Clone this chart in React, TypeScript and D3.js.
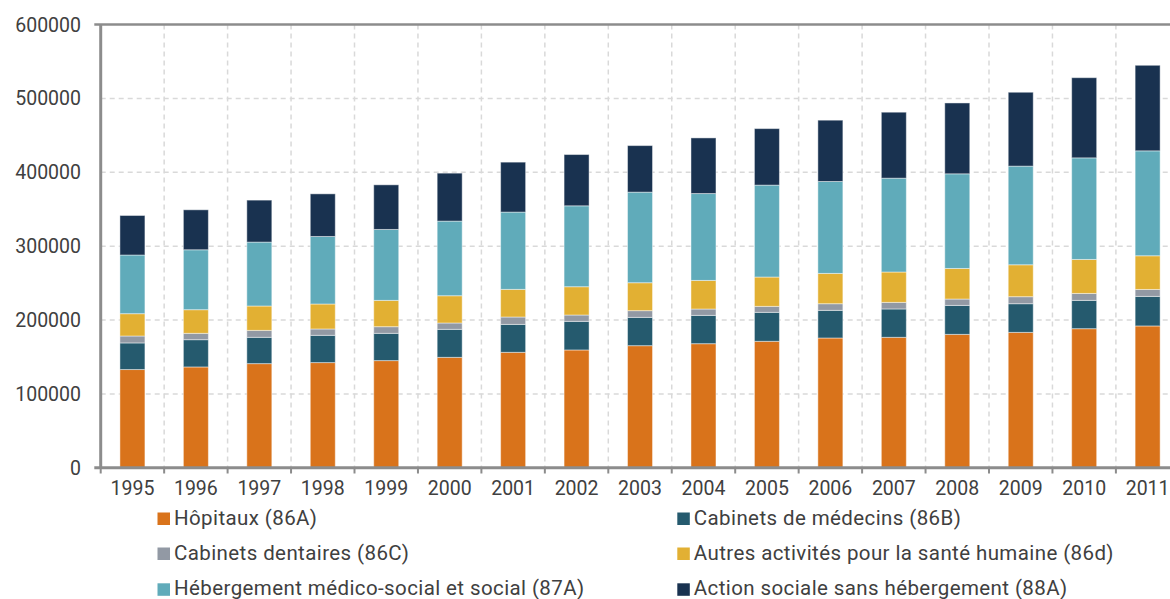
import React from "react";
import * as d3 from "d3";

const years = ["1995","1996","1997","1998","1999","2000","2001","2002","2003","2004","2005","2006","2007","2008","2009","2010","2011"];
const hopitaux = [133000,136500,141000,142400,145100,149500,156300,159500,165300,168000,171200,175700,176600,180600,183300,188300,192000];
const medecins = [36000,36900,35600,36900,36900,37900,37800,38700,38300,38300,39200,37400,38400,39200,38800,38300,40000];
const dentaires = [9400,8600,9400,8600,9000,8600,10000,8600,9100,8600,8100,9000,8900,8600,9500,9400,9400];
const autres = [30200,32000,33000,33800,35600,36900,37400,38300,37800,38700,39700,41000,41100,41400,43200,46000,45600];
const hebergement = [79400,81100,86500,91400,96000,101000,104600,109500,122600,117600,124400,124400,127000,128100,133500,137500,142000];
const action = [53500,54100,56800,57700,60400,64900,67600,69400,63000,75300,76500,83000,89300,95900,100000,108500,115800];
const yTicks = [0,100000,200000,300000,400000,500000,600000];

const seriesNames = [
  "Hôpitaux (86A)",
  "Cabinets de médecins (86B)",
  "Cabinets dentaires (86C)",
  "Autres activités pour la santé humaine (86d)",
  "Hébergement médico-social et social (87A)",
  "Action sociale sans hébergement (88A)",
];
const seriesValues = [hopitaux, medecins, dentaires, autres, hebergement, action];
const colors = ["#D9731B", "#255A6E", "#9299A4", "#E2B033", "#60ABBA", "#193250"];

const W = 1170, H = 599;
const left = 100.7, bandW = 63.45;
const yTop = 24.5, yBottom = 467.8;
const font = "Roboto, 'Open Sans', sans-serif";
const textColor = "#404040";

export default function App() {
  const x = d3.scaleBand<string>().domain(years).range([left, left + bandW * years.length]).paddingInner(0).paddingOuter(0);
  const y = d3.scaleLinear().domain([0, 600000]).range([yBottom, yTop]);
  const table = years.map((yr, i) => {
    const o: any = { year: yr };
    seriesNames.forEach((n, k) => (o[n] = seriesValues[k][i]));
    return o;
  });
  const stack = d3.stack<any>().keys(seriesNames)(table);
  const barW = 25;
  const right = W;

  const legendPos = [
    [157.5, 512.5], [677.3, 512.5],
    [157.5, 547.5], [677.3, 547.5],
    [157.5, 583.3], [677.3, 583.3],
  ];

  return (
    <svg width={W} height={H} style={{ position: "absolute", left: 0, top: 0, display: "block", background: "#fff" }}>
      {yTicks.slice(1, -1).map((t) => (
        <line key={"h" + t} x1={left} x2={right} y1={y(t)} y2={y(t)} stroke="#d9d9d9" strokeWidth={1.5} strokeDasharray="5,4" />
      ))}
      {years.slice(1).map((yr) => (
        <line key={"v" + yr} x1={x(yr)!} x2={x(yr)!} y1={yTop} y2={yBottom} stroke="#d9d9d9" strokeWidth={1.5} strokeDasharray="5,4" />
      ))}
      {stack.map((s, k) => (
        <g key={s.key} fill={colors[k]}>
          {s.map((d, i) => (
            <rect
              key={i}
              x={x(years[i])! + bandW / 2 - barW / 2}
              width={barW}
              y={y(d[1])}
              height={y(d[0]) - y(d[1])}
              stroke="#ffffff"
              strokeOpacity={0.45}
              strokeWidth={1}
            />
          ))}
        </g>
      ))}
      <line x1={94.3} x2={right} y1={yTop} y2={yTop} stroke="#8c8c8c" strokeWidth={2.5} />
      <line x1={left} x2={left} y1={yTop} y2={yBottom} stroke="#8c8c8c" strokeWidth={3} />
      <line x1={94.3} x2={right} y1={yBottom} y2={yBottom} stroke="#8c8c8c" strokeWidth={3} />
      {years.map((yr) => (
        <line key={"t" + yr} x1={x(yr)!} x2={x(yr)!} y1={yBottom} y2={473.5} stroke="#8c8c8c" strokeWidth={2} />
      ))}
      {yTicks.map((t) => (
        <text key={"yl" + t} x={81} y={y(t)} dy="0.36em" textAnchor="end" fontFamily={font} fontSize={19.5} fill={textColor}>
          {t}
        </text>
      ))}
      {years.map((yr) => (
        <text key={"xl" + yr} x={x(yr)! + bandW / 2} y={495} textAnchor="middle" fontFamily={font} fontSize={19.5} fill={textColor}>
          {yr}
        </text>
      ))}
      {seriesNames.map((n, k) => (
        <g key={"lg" + k} transform={`translate(${legendPos[k][0]},${legendPos[k][1]})`}>
          <rect width={12.5} height={12.5} fill={colors[k]} />
          <text x={16.5} y={12} fontFamily={font} fontSize={20.5} letterSpacing={0.4} fill={textColor}>
            {n}
          </text>
        </g>
      ))}
    </svg>
  );
}
